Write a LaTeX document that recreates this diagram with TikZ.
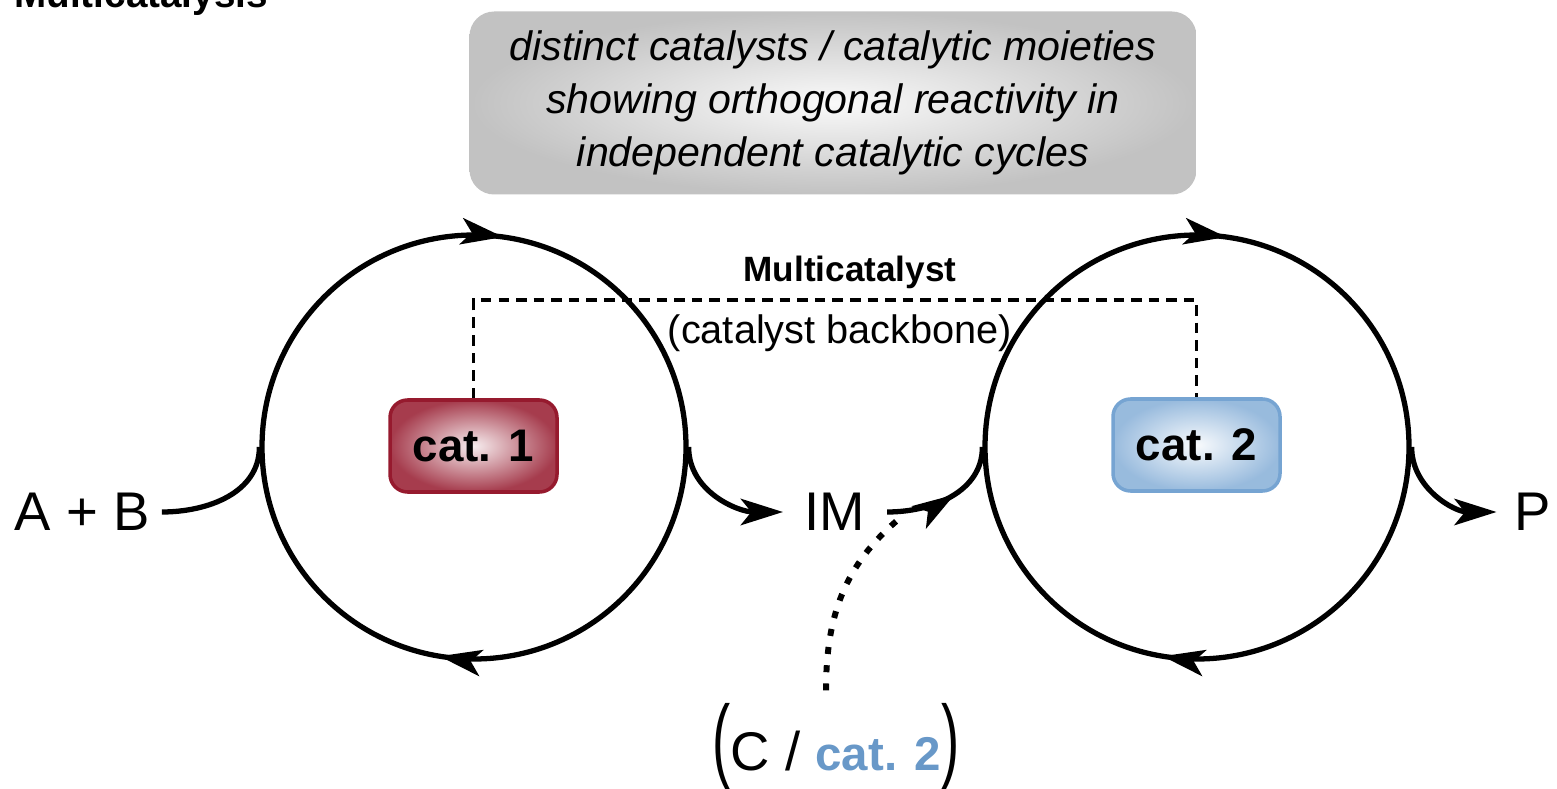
\documentclass[tikz,border=0pt]{standalone}
\usepackage{fontspec}
\setmainfont{Liberation Sans}
\usepackage{graphicx}
\usepackage{tikz}
\usetikzlibrary{arrows.meta, shapes, decorations.markings}

\definecolor{catred}{RGB}{150,26,46}
\definecolor{catblue}{RGB}{104,152,200}
\definecolor{boxblue}{RGB}{118,164,210}

\begin{document}
\begin{tikzpicture}
            \useasboundingbox (0,0) rectangle (15.57,7.88);
            \node[anchor=base west, font=\bfseries\fontsize{11}{13}\selectfont] (title) at (0.02,7.80) {Multicatalysis};

            \node[rounded corners=7pt, inner color=black!2, outer color=black!24,
                  minimum width=7.27cm, minimum height=1.83cm, align=center,
                  font=\itshape\fontsize{11.7}{15}\selectfont] (note) at (8.33,6.85)
                  {distinct catalysts / catalytic moieties\\ showing orthogonal reactivity in\\ independent catalytic cycles};

            \begin{scope}[every node/.style={circle,draw=black,line width=1.5pt,
                          minimum size=4.24cm,inner sep=0pt,
                          postaction={decorate},
                          decoration={markings,
                            mark=at position 0.228 with {\arrowreversed{Stealth[length=12pt,width=7.5pt,inset=3pt]}},
                            mark=at position 0.724 with {\arrowreversed{Stealth[length=12pt,width=7.5pt,inset=3pt]}}}}]
                \node (cycL) at (4.74,3.41) {};
                \node (cycR) at (11.97,3.41) {};
            \end{scope}

            \begin{scope}[every node/.style={rounded corners=5pt,line width=1pt,
                          minimum width=1.67cm,minimum height=0.92cm,
                          font=\bfseries\fontsize{13}{15}\selectfont}]
                \node[draw=catred, inner color=white!92!catred, outer color=catred!85] (cat1) at (4.735,3.42) {cat. 1};
                \node[draw=boxblue, inner color=white!95!boxblue, outer color=boxblue!75] (cat2) at (11.965,3.43) {cat. 2};
            \end{scope}

            \node[font=\bfseries\fontsize{10}{12}\selectfont] (mcat) at (8.50,5.16) {Multicatalyst};
            \node[font=\fontsize{11.3}{13}\selectfont] (bbone) at (8.40,4.55) {(catalyst backbone)};
            \path[draw=black, line width=1.1pt, dash pattern=on 3pt off 2pt]
                (cat1.north) -- ++(0,0.98) -| (cat2.north);

            \begin{scope}[every node/.style={font=\fontsize{15.5}{18}\selectfont}]
                \node (ab) at (0.82,2.76) {A + B};
                \node[inner sep=6pt] (im) at (8.35,2.76) {IM};
                \node[inner sep=5pt] (prod) at (15.33,2.76) {P};
                \node[anchor=base] (cadd) at (8.36,0.18)
                    {\scalebox{1}[1.7]{(}C / \textcolor{catblue}{\bfseries\fontsize{13.5}{16}\selectfont cat. 2}\scalebox{1}[1.7]{)}};
            \end{scope}
            \coordinate (imjoin) at (9.00,2.70);

            \begin{scope}[>={Stealth[length=12pt,width=7.5pt,inset=3pt]},
                          every edge/.style={draw=black, line width=1.5pt}]
                \path (ab) edge[out=0, in=-90] (cycL.west);
                \path[->] (cycL.east) edge[out=-90, in=180] (im);
                \path (im) edge[out=0, in=-90, postaction={decorate},
                    decoration={markings, mark=at position 0.55 with {\arrow{Stealth[length=12pt,width=7.5pt,inset=3pt]}}}] (cycR.west);
                \path[->] (cycR.east) edge[out=-90, in=180] (prod);
                \path ([xshift=-1mm]cadd.north) edge[line width=1.7pt, dash pattern=on 2pt off 3.2pt,
                    out=90, in=220] (imjoin);
            \end{scope}

            \end{tikzpicture}
\end{document}
